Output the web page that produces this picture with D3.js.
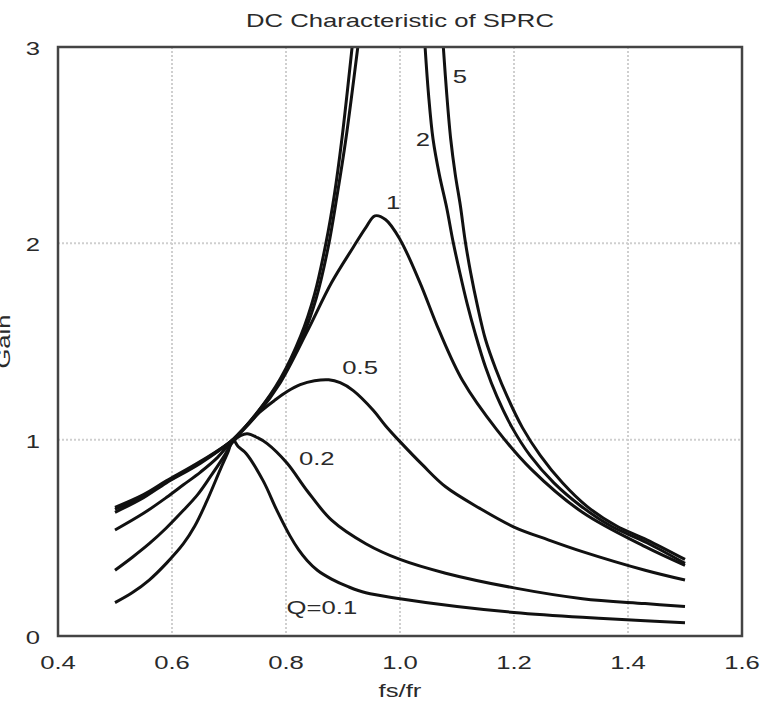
<!DOCTYPE html>
<html>
<head>
<meta charset="utf-8">
<script src="https://cdn.jsdelivr.net/npm/d3@7"></script>
<style>
  html, body { margin: 0; padding: 0; background: #fff; overflow: hidden; }
  svg { display: block; }
  text { font-family: "Liberation Sans", Arial, sans-serif; }
</style>
</head>
<body>
<svg id="chart" width="773" height="717"></svg>
<script>
// tick values
const xTicks = [0.4, 0.6, 0.8, 1.0, 1.2, 1.4, 1.6];
const yTicks = [0, 1, 2, 3];

// curves: [fs/fr, gain]
const q01 = [[0.50,0.17],[0.53,0.22],[0.56,0.285],[0.59,0.37],[0.62,0.47],[0.64,0.56],[0.66,0.68],
  [0.685,0.85],[0.698,0.935],[0.707,1.0],[0.716,0.965],[0.73,0.93],[0.76,0.79],[0.784,0.64],
  [0.807,0.51],[0.822,0.44],[0.837,0.385],[0.855,0.335],[0.88,0.29],[0.91,0.25],[0.94,0.22],
  [1.0,0.19],[1.1,0.15],[1.2,0.12],[1.32,0.095],[1.43,0.078],[1.5,0.068]];
const q02 = [[0.50,0.335],[0.53,0.40],[0.56,0.47],[0.59,0.55],[0.62,0.64],[0.645,0.72],[0.667,0.81],
  [0.69,0.91],[0.707,0.99],[0.72,1.02],[0.732,1.03],[0.75,1.01],[0.767,0.98],[0.802,0.88],
  [0.837,0.74],[0.88,0.59],[0.94,0.47],[1.0,0.39],[1.08,0.32],[1.2,0.245],[1.32,0.19],
  [1.43,0.165],[1.5,0.15]];
const q05 = [[0.50,0.54],[0.55,0.625],[0.59,0.705],[0.62,0.77],[0.65,0.835],[0.68,0.91],[0.707,1.0],
  [0.73,1.07],[0.754,1.14],[0.78,1.20],[0.802,1.245],[0.825,1.28],[0.85,1.30],[0.875,1.305],
  [0.895,1.29],[0.918,1.25],[0.953,1.15],[0.975,1.07],[1.0,0.99],[1.04,0.87],[1.08,0.76],[1.14,0.65],
  [1.2,0.555],[1.26,0.49],[1.32,0.43],[1.43,0.335],[1.5,0.285]];
const q1 = [[0.50,0.63],[0.55,0.705],[0.59,0.78],[0.65,0.88],[0.707,1.0],[0.75,1.13],[0.79,1.29],
  [0.837,1.55],[0.88,1.80],[0.918,1.98],[0.94,2.08],[0.956,2.14],[0.975,2.12],[1.0,2.02],
  [1.035,1.80],[1.068,1.56],[1.11,1.30],[1.17,1.05],[1.23,0.85],[1.32,0.63],[1.43,0.455],[1.5,0.36]];
const q2Rise = [[0.50,0.645],[0.55,0.715],[0.59,0.785],[0.65,0.885],[0.707,1.0],[0.75,1.14],[0.79,1.30],
  [0.83,1.53],[0.853,1.72],[0.874,1.98],[0.89,2.25],[0.905,2.53],[0.926,3.0]];
const q2Fall = [[1.044,3.0],[1.05,2.76],[1.058,2.53],[1.069,2.35],[1.082,2.18],[1.093,2.01],[1.105,1.85],
  [1.118,1.69],[1.132,1.54],[1.15,1.37],[1.17,1.22],[1.197,1.06],[1.228,0.92],[1.27,0.78],
  [1.316,0.665],[1.37,0.56],[1.433,0.475],[1.5,0.37]];
const q5Rise = [[0.50,0.655],[0.55,0.72],[0.59,0.79],[0.65,0.89],[0.707,1.0],[0.75,1.14],[0.79,1.31],
  [0.826,1.53],[0.85,1.74],[0.87,2.0],[0.885,2.25],[0.898,2.53],[0.916,3.0]];
const q5Fall = [[1.076,3.0],[1.082,2.76],[1.089,2.53],[1.097,2.35],[1.106,2.19],[1.114,2.02],[1.124,1.85],
  [1.136,1.68],[1.15,1.51],[1.168,1.36],[1.188,1.22],[1.215,1.06],[1.246,0.92],[1.285,0.78],
  [1.328,0.66],[1.38,0.56],[1.433,0.49],[1.5,0.39]];

const qNames = ["Q=0.1", "0.2", "0.5", "1", "2", "5"];
const qParts = [[q01], [q02], [q05], [q1], [q2Rise, q2Fall], [q5Rise, q5Fall]];
// where each curve name sits, in data units
const qLabelAt = [[0.863,0.148],[0.854,0.907],[0.93,1.37],[0.988,2.21],[1.04,2.53],[1.105,2.85]];

const width = 773, height = 717;
const margin = { top: 47, right: 31, bottom: 81, left: 58 };
const innerWidth = width - margin.left - margin.right;
const innerHeight = height - margin.top - margin.bottom;
const sx = 1.35; // the source type looks stretched sideways
const fontSize = 19;
const textColor = "#2a2a2a";

// widen a text sideways without a transform
function stretch(sel) {
  sel.each(function () {
    const len = this.getComputedTextLength();
    d3.select(this).attr("textLength", len * sx).attr("lengthAdjust", "spacingAndGlyphs");
  });
}

const svg = d3.select("#chart");
svg.append("defs").append("clipPath").attr("id", "plotClip")
  .append("rect")
  .attr("x", margin.left).attr("y", margin.top)
  .attr("width", innerWidth).attr("height", innerHeight);
svg.append("rect").attr("width", width).attr("height", height).attr("fill", "#fff");

// scales in page pixels
const xScale = d3.scaleLinear().domain([0.4, 1.6]).range([margin.left, margin.left + innerWidth]);
const yScale = d3.scaleLinear().domain([0, 3]).range([margin.top + innerHeight, margin.top]);

// dotted grid
svg.append("g").selectAll("line")
  .data(xTicks.slice(1, -1))
  .join("line")
  .attr("x1", d => xScale(d)).attr("x2", d => xScale(d))
  .attr("y1", yScale(3)).attr("y2", yScale(0))
  .attr("stroke", "#cfcfcf").attr("stroke-width", 2).attr("stroke-dasharray", "2,2");
svg.append("g").selectAll("line")
  .data(yTicks.slice(1, -1))
  .join("line")
  .attr("x1", xScale(0.4)).attr("x2", xScale(1.6))
  .attr("y1", d => yScale(d)).attr("y2", d => yScale(d))
  .attr("stroke", "#cfcfcf").attr("stroke-width", 2).attr("stroke-dasharray", "2,2");

// tick labels (the chart has no tick marks)
const fmtX = d3.format(".1f");
svg.append("g").selectAll("text")
  .data(xTicks)
  .join("text")
  .attr("x", d => xScale(d))
  .attr("y", yScale(0) + 33)
  .attr("text-anchor", "middle")
  .style("font-size", fontSize + "px")
  .attr("fill", textColor)
  .text(d => fmtX(d))
  .call(stretch);

svg.append("g").selectAll("text")
  .data(yTicks)
  .join("text")
  .attr("x", xScale(0.4) - 18)
  .attr("y", d => yScale(d) + 8)
  .attr("text-anchor", "end")
  .style("font-size", fontSize + "px")
  .attr("fill", textColor)
  .text(d => d)
  .call(stretch);

// curves
const line = d3.line()
  .x(d => xScale(d[0]))
  .y(d => yScale(d[1]))
  .curve(d3.curveCatmullRom.alpha(0.5));

const curves = svg.append("g").attr("clip-path", "url(#plotClip)");
qParts.forEach(parts => {
  parts.forEach(p => {
    curves.append("path")
      .datum(p)
      .attr("fill", "none")
      .attr("stroke", "#111")
      .attr("stroke-width", 3)
      .attr("stroke-linejoin", "round")
      .attr("d", line);
  });
});

// curve names
svg.append("g").selectAll("text")
  .data(qNames)
  .join("text")
  .attr("x", (d, i) => xScale(qLabelAt[i][0]))
  .attr("y", (d, i) => yScale(qLabelAt[i][1]) + 7)
  .attr("text-anchor", "middle")
  .style("font-size", fontSize + "px")
  .attr("fill", textColor)
  .text(d => d)
  .call(stretch);

// frame
svg.append("rect")
  .attr("x", margin.left).attr("y", margin.top)
  .attr("width", innerWidth).attr("height", innerHeight)
  .attr("fill", "none").attr("stroke", "#444").attr("stroke-width", 2.5);

// title and axis titles
svg.append("text")
  .attr("x", margin.left + innerWidth / 2).attr("y", 27)
  .attr("text-anchor", "middle")
  .style("font-size", fontSize + "px").attr("fill", textColor)
  .text("DC Characteristic of SPRC")
  .call(stretch);

svg.append("text")
  .attr("x", margin.left + innerWidth / 2).attr("y", 697)
  .attr("text-anchor", "middle")
  .style("font-size", fontSize + "px").attr("fill", textColor)
  .text("fs/fr")
  .call(stretch);

svg.append("text")
  .attr("transform", `translate(10,${margin.top + innerHeight / 2}) rotate(-90)`)
  .attr("text-anchor", "middle")
  .style("font-size", fontSize + "px").attr("fill", textColor)
  .text("Gain")
  .call(stretch);
</script>
</body>
</html>
